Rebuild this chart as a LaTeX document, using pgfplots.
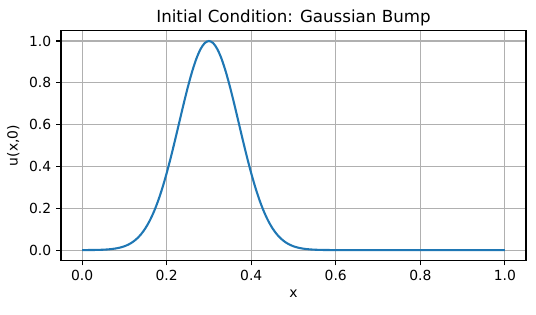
\documentclass[border=0pt]{standalone}
\usepackage{pgfplots}
\pgfplotsset{compat=1.18}
\usepackage{fontspec}
\setmainfont{DejaVu Sans}
\definecolor{mplblue}{HTML}{1F77B4}
\definecolor{gridgray}{HTML}{B0B0B0}
\begin{document}
\begin{tikzpicture}
\pgfplotsset{every axis title shift=0pt}
\begin{axis}[
  scale only axis,
  width=334.8pt, height=165.6pt,
  xmin=-0.05, xmax=1.05, ymin=-0.05, ymax=1.05,
  xtick={0,0.2,0.4,0.6,0.8,1.0},
  ytick={0,0.2,0.4,0.6,0.8,1.0},
  xticklabel style={/pgf/number format/.cd,fixed,fixed zerofill,precision=1},
  yticklabel style={/pgf/number format/.cd,fixed,fixed zerofill,precision=1},
  /pgf/number format/assume math mode=true,
  tick label style={font=\fontsize{10}{12}\selectfont},
  label style={font=\fontsize{10}{12}\selectfont},
  title style={font=\fontsize{12}{14}\selectfont, at={(0.5,1)}, anchor=base, inner sep=0pt, yshift=6pt},
  tick align=outside, tick pos=left,
  major tick length=3.5pt,
  every tick/.style={black, line width=0.8pt},
  axis line style={black, line width=0.8pt},
  grid=major,
  major grid style={gridgray, line width=0.8pt},
  xlabel={x}, ylabel={u(x,0)},
  title={Initial Condition: Gaussian Bump},
]
\addplot[mplblue, line width=1.5pt, smooth] coordinates {
(0.00,0.000123)(0.01,0.000222)(0.02,0.000394)(0.03,0.000683)(0.04,0.00116)
(0.05,0.00193)(0.06,0.00315)(0.07,0.00504)(0.08,0.00791)(0.09,0.01216)
(0.10,0.01832)(0.11,0.02705)(0.12,0.03916)(0.13,0.05558)(0.14,0.07730)
(0.15,0.10540)(0.16,0.14086)(0.17,0.18452)(0.18,0.23693)(0.19,0.29820)
(0.20,0.36788)(0.21,0.44486)(0.22,0.52729)(0.23,0.61263)(0.24,0.69768)
(0.25,0.77880)(0.26,0.85214)(0.27,0.91393)(0.28,0.96079)(0.29,0.99005)
(0.30,1.00000)
(0.31,0.99005)(0.32,0.96079)(0.33,0.91393)(0.34,0.85214)(0.35,0.77880)
(0.36,0.69768)(0.37,0.61263)(0.38,0.52729)(0.39,0.44486)(0.40,0.36788)
(0.41,0.29820)(0.42,0.23693)(0.43,0.18452)(0.44,0.14086)(0.45,0.10540)
(0.46,0.07730)(0.47,0.05558)(0.48,0.03916)(0.49,0.02705)(0.50,0.01832)
(0.51,0.01216)(0.52,0.00791)(0.53,0.00504)(0.54,0.00315)(0.55,0.00193)
(0.56,0.00116)(0.57,0.000683)(0.58,0.000394)(0.59,0.000222)(0.60,0.000123)
(0.65,0.0000048)(0.70,0.0)(0.80,0.0)(0.90,0.0)(1.00,0.0)
};
\coordinate (sw) at (rel axis cs:0,0);
\coordinate (ne) at (rel axis cs:1,1);
\end{axis}
\draw[black, line width=1pt, line cap=rect] (sw) -- (sw |- ne) -- (ne) -- (ne |- sw) -- cycle;
\pgfresetboundingbox
\useasboundingbox ([xshift=-43.9pt,yshift=-38.5pt]sw) rectangle ([xshift=7.2pt,yshift=22pt]ne);
\end{tikzpicture}
\end{document}
